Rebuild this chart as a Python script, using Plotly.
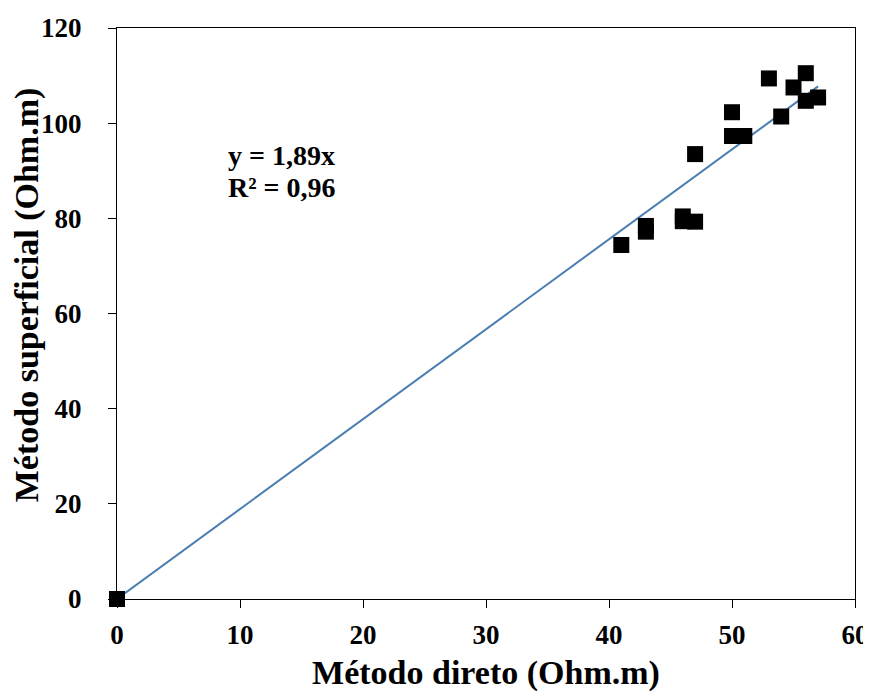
import plotly.graph_objects as go

# Data
direto = [0, 41, 43, 43, 46, 46, 47, 47, 50, 50, 51, 53, 54, 55, 56, 56, 57]
superficial = [0, 74.4, 77.2, 78.4, 80.4, 79.4, 79.3, 93.5, 102.3, 97.3, 97.3, 109.4, 101.4, 107.5, 110.5, 104.7, 105.4]
slope = 1.89
trend_x = [0, 57]
trend_y = [slope * v for v in trend_x]

x_ticks = [0, 10, 20, 30, 40, 50, 60]
y_ticks = [0, 20, 40, 60, 80, 100, 120]

FONT = "Liberation Serif, Times New Roman, serif"

fig = go.Figure()
fig.add_trace(go.Scatter(
    x=trend_x, y=trend_y, mode="lines",
    line=dict(color="#4a7db0", width=2),
    hoverinfo="skip", showlegend=False,
))
fig.add_trace(go.Scatter(
    x=direto, y=superficial, mode="markers",
    marker=dict(symbol="square", size=16, color="black"),
    cliponaxis=False, showlegend=False,
))

fig.add_annotation(x=8.86, y=93.3, xref="x", yref="y", text="y = 1,89x",
                   showarrow=False, xanchor="left", yanchor="middle",
                   font=dict(family=FONT, size=28, color="black", weight="bold"))
fig.add_annotation(x=8.86, y=86.4, xref="x", yref="y", text="R² = 0,96",
                   showarrow=False, xanchor="left", yanchor="middle",
                   font=dict(family=FONT, size=28, color="black", weight="bold"))
# y-axis title
fig.add_annotation(x=0, y=0.532, xref="paper", yref="paper", xshift=-90,
                   text="Método superficial (Ohm.m)", textangle=-90,
                   showarrow=False, xanchor="center", yanchor="middle",
                   font=dict(family=FONT, size=34, color="black", weight="bold"))

axis_common = dict(
    showline=True, linecolor="black", linewidth=1, mirror=True,
    ticks="outside", ticklen=8, tickcolor="black", tickwidth=1,
    showgrid=False, zeroline=False, automargin=False,
    tickfont=dict(family=FONT, size=27, color="black", weight="bold"),
)

# page body has an 8px margin, so the figure is shrunk and offset to compensate
fig.update_layout(
    width=863, height=684,
    margin=dict(l=109, r=16, t=20, b=93),
    plot_bgcolor="white", paper_bgcolor="white",
    xaxis=dict(range=[0, 60], tickvals=x_ticks, ticklabelstandoff=4,
               title=dict(text="Método direto (Ohm.m)", standoff=12,
                          font=dict(family=FONT, size=34, color="black", weight="bold")),
               **axis_common),
    yaxis=dict(range=[0, 120], tickvals=y_ticks, ticklabelstandoff=21,
               **axis_common),
)

fig.write_html("out.html")
